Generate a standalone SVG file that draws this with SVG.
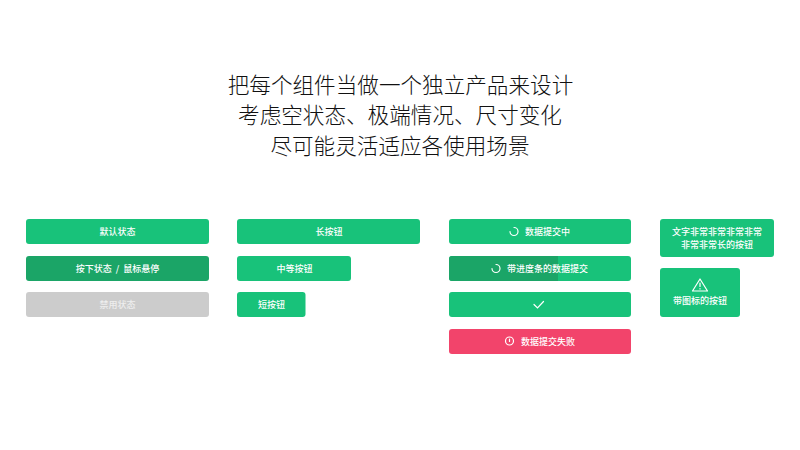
<svg xmlns="http://www.w3.org/2000/svg" width="800" height="450" viewBox="0 0 800 450">
<defs><style>
text{font-family:"Noto Sans CJK SC","Noto Sans",sans-serif;text-anchor:middle}
.t{font-size:21.6px;fill:#111;font-weight:300}
.l{font-size:9px;fill:#fff;font-weight:500}
.g{fill:#18c27a}.d{fill:#1ba567}.x{fill:#ccc}.r{fill:#f2446b}
.i{fill:none;stroke:#fff;stroke-width:1.2;stroke-linecap:round}
</style></defs>
<rect width="800" height="450" fill="#fff"/>
<g id="title">
<text class="t" x="400.500" y="93">把每个组件当做一个独立产品来设计</text>
<text class="t" x="400" y="123">考虑空状态、极端情况、尺寸变化</text>
<text class="t" x="400" y="154">尽可能灵活适应各使用场景</text>
</g>
<g id="btn-default"><rect class="g" x="26" y="219" width="183" height="25" rx="3"/><text class="l" x="117.500" y="235">默认状态</text></g>
<g id="btn-pressed"><rect class="d" x="26" y="256" width="183" height="25" rx="3"/><text class="l" x="117.500" y="272" word-spacing="2">按下状态 / 鼠标悬停</text></g>
<g id="btn-disabled"><rect class="x" x="26" y="292" width="183" height="25" rx="3"/><text class="l" x="117.500" y="308" style="fill:#eee">禁用状态</text></g>
<g id="btn-long"><rect class="g" x="237" y="219" width="183" height="25" rx="3"/><text class="l" x="329" y="235">长按钮</text></g>
<g id="btn-medium"><rect class="g" x="237" y="256" width="114" height="25" rx="3"/><text class="l" x="294.500" y="272">中等按钮</text></g>
<g id="btn-short"><rect class="g" x="237" y="292" width="68.500" height="25" rx="3"/><text class="l" x="271.500" y="308">短按钮</text></g>
<g id="btn-loading"><rect class="g" x="449" y="219" width="182" height="25" rx="3"/>
<path class="i" d="M514 227.500A4 4 0 1 1 510 231.500"/><text class="l" x="547.500" y="235">数据提交中</text></g>
<g id="btn-progress"><rect class="g" x="449" y="256" width="182" height="25" rx="3"/>
<path class="d" d="M452 256H558V281H452a3 3 0 0 1-3-3V259a3 3 0 0 1 3-3Z"/>
<path class="i" d="M496 264.500A4 4 0 1 1 492 268.500"/><text class="l" x="547.500" y="272">带进度条的数据提交</text></g>
<g id="btn-success"><rect class="g" x="449" y="292" width="182" height="25" rx="3"/>
<path class="i" d="M534 304.500L537.500 308L543.500 301.500"/></g>
<g id="btn-failed"><rect class="r" x="449" y="329" width="182" height="25" rx="3"/>
<circle class="i" cx="509.500" cy="341" r="4"/><path class="i" d="M509.500 339V341.500"/><text class="l" x="548" y="345">数据提交失败</text></g>
<g id="btn-wrap"><rect class="g" x="660" y="219" width="114" height="38" rx="3"/>
<text class="l" x="717" y="235">文字非常非常非常非常</text><text class="l" x="717" y="248">非常非常长的按钮</text></g>
<g id="btn-icon"><rect class="g" x="660" y="268" width="80" height="49" rx="3"/>
<path class="i" d="M700 279L707.500 291H692.500Z" stroke-linejoin="round"/><path class="i" d="M700 283V286.500M700 288.700V289"/>
<text class="l" x="700" y="304">带图标的按钮</text></g>
</svg>
